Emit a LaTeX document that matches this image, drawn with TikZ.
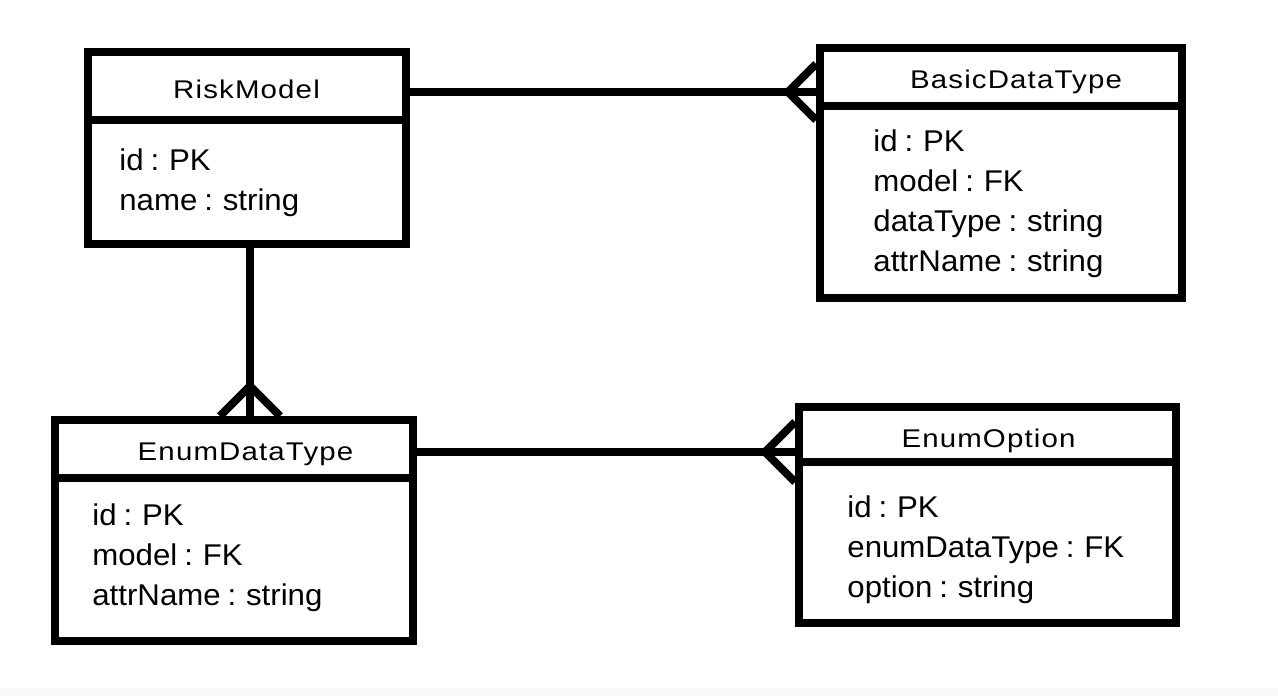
\documentclass[tikz,border=0pt]{standalone}
\usepackage{fontspec}
\setmainfont[WordSpace=0.8, FakeStretch=1.04]{Liberation Sans}
\newfontfamily\headfont[FakeStretch=1.15, LetterSpace=4.5]{Liberation Sans}
\usetikzlibrary{positioning,calc}

\begin{document}
\begin{tikzpicture}[x=1pt, y=-1pt,
        entbox/.style={draw, line width=4pt, inner sep=0pt},
        sepline/.style={line width=4pt},
        link/.style={line width=4pt},
        head/.style={anchor=base, inner sep=0pt, font=\headfont\fontsize{12.8}{15}\selectfont},
        attr/.style={anchor=base west, inner sep=0pt, font=\fontsize{15}{18}\selectfont}]
                    \useasboundingbox (0,0) rectangle (639,348);
                    \fill [white] (0,0) rectangle (639,344);
                    \fill [black!2] (0,344) rectangle (639,348);

                    \node [entbox, minimum width=159pt,   minimum height=96pt]     (risk)   at (123.5 , 74   ) {};
                    \node [entbox, minimum width=181pt,   minimum height=125.25pt] (basic)  at (500.5 , 86.4 ) {};
                    \node [entbox, minimum width=179pt,   minimum height=110.5pt]  (enum)   at (116.75,265.25) {};
                    \node [entbox, minimum width=188.5pt, minimum height=108pt]    (option) at (493.75,257.5 ) {};

                    \coordinate (riskhead)   at (0, 60);
                    \coordinate (basichead)  at (0, 53);
                    \coordinate (enumhead)   at (0,239);
                    \coordinate (optionhead) at (0,231);
                    \draw [sepline] (risk.west   |- riskhead)   -- (risk.east   |- riskhead);
                    \draw [sepline] (basic.west  |- basichead)  -- (basic.east  |- basichead);
                    \draw [sepline] (enum.west   |- enumhead)   -- (enum.east   |- enumhead);
                    \draw [sepline] (option.west |- optionhead) -- (option.east |- optionhead);

                    \node [head] (risktitle)   at (123.25, 49  ) {RiskModel};
                    \node [head] (basictitle)  at (508   , 44  ) {BasicDataType};
                    \node [head] (enumtitle)   at (122.75,230  ) {EnumDataType};
                    \node [head] (optiontitle) at (494.25,223.5) {EnumOption};

                    \foreach \t [count=\i] in {id : PK, name : string}
                        \node [attr] (riskattr\i) at (59.5, 65+20*\i) {\t};
                    \foreach \t [count=\i] in {id : PK, model : FK, dataType : string, attrName : string}
                        \node [attr] (basicattr\i) at (436.5, 55.5+20*\i) {\t};
                    \foreach \t [count=\i] in {id : PK, model : FK, attrName : string}
                        \node [attr] (enumattr\i) at (46, 242.5+20*\i) {\t};
                    \foreach \t [count=\i] in {id : PK, enumDataType : FK, option : string}
                        \node [attr] (optionattr\i) at (423.5, 238.5+20*\i) {\t};

                    \coordinate (toprow)  at (0, 46);
                    \coordinate (botrow)  at (0,226);
                    \coordinate (leftcol) at (125,0);

                    \draw [link] (risk.east  |- toprow)  -- (basic.west  |- toprow);
                    \draw [link] ($(basic.west |- toprow)+(0,-14)$) -- ++(-14,14) -- ++(14,14);

                    \draw [link] (enum.east  |- botrow)  -- (option.west |- botrow);
                    \draw [link] ($(option.west |- botrow)+(0,-15)$) -- ++(-15,15) -- ++(15,15);

                    \draw [link] (risk.south -| leftcol) -- (enum.north  -| leftcol);
                    \draw [link] ($(enum.north -| leftcol)+(-15,0)$) -- ++(15,-15) -- ++(15,15);
\end{tikzpicture}
\end{document}
